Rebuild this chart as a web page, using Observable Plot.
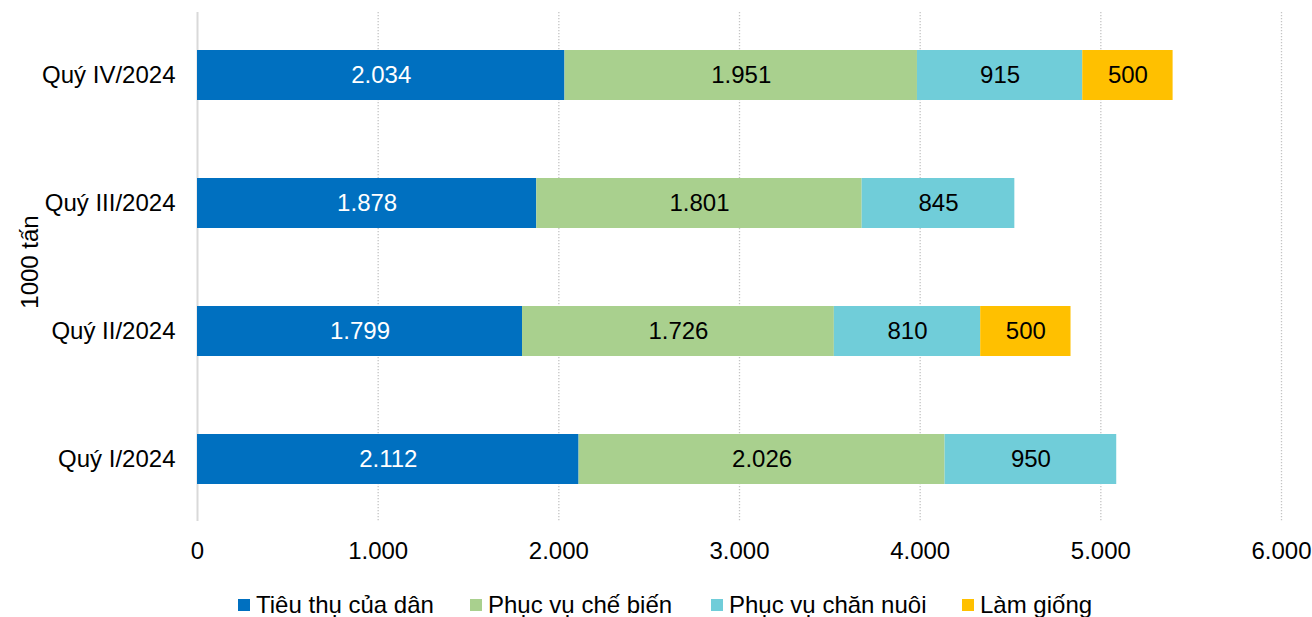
<!DOCTYPE html>
<html><head><meta charset="utf-8">
<script src="https://cdn.jsdelivr.net/npm/d3@7"></script>
<script src="https://cdn.jsdelivr.net/npm/@observablehq/plot@0.6"></script>
<style>
body{margin:0;background:#fff;font-family:"Liberation Sans",Arial,sans-serif;}
#wrap{position:relative;width:1312px;height:617px;}
#legend{position:absolute;left:0;top:590px;width:1312px;height:30px;}
.item{position:absolute;top:0;height:30px;line-height:30px;font-size:24px;color:#000;white-space:nowrap;display:flex;align-items:center;}
.sw{display:inline-block;width:12px;height:12px;margin-right:6px;}
</style></head><body>
<div id="wrap"><div id="chart"></div><div id="legend"></div></div>
<script>
const quarters = ["Quý I/2024", "Quý II/2024", "Quý III/2024", "Quý IV/2024"];
const seriesNames = ["Tiêu thụ của dân", "Phục vụ chế biến", "Phục vụ chăn nuôi", "Làm giống"];
const tieuThuCuaDan = [2112, 1799, 1878, 2034];
const phucVuCheBien = [2026, 1726, 1801, 1951];
const phucVuChanNuoi = [950, 810, 845, 915];
const lamGiong = [null, 500, null, 500];
const xTicks = [0, 1000, 2000, 3000, 4000, 5000, 6000];
const yLabel = "1000 tấn";

const colors = ["#0070C0", "#A9D08E", "#70CDD9", "#FFC000"];
const seriesValues = [tieuThuCuaDan, phucVuCheBien, phucVuChanNuoi, lamGiong];

const rows = [];
seriesValues.forEach((vals, si) => {
  vals.forEach((v, qi) => {
    if (v != null) rows.push({quarter: quarters[qi], series: seriesNames[si], value: v});
  });
});
const firstRows = rows.filter(d => d.series === seriesNames[0]);

const vn = d3.formatLocale({decimal: ",", thousands: ".", grouping: [3], currency: ["", ""]});
const fmt = vn.format(",");
const FS = 24;

const chart = Plot.plot({
  width: 1312,
  height: 575,
  marginTop: 12,
  marginBottom: 54,
  marginLeft: 197,
  marginRight: 31,
  style: {fontFamily: "'Liberation Sans', Arial, sans-serif", fontSize: FS + "px", color: "#000", background: "#fff"},
  x: {domain: [0, 6000], ticks: xTicks, tickFormat: fmt},
  y: {domain: quarters.slice().reverse(), paddingInner: 0.61, paddingOuter: 0.29},
  color: {domain: seriesNames, range: colors},
  marks: [
    Plot.gridX(xTicks.filter(t => t > 0), {stroke: "#c4c4c4", strokeOpacity: 1, strokeWidth: 1.3, strokeDasharray: "1.3,1.7"}),
    Plot.ruleX([0], {stroke: "#d9d9d9", strokeWidth: 2}),
    Plot.barX(rows, Plot.stackX({x: "value", y: "quarter", fill: "series", order: seriesNames})),
    Plot.textX(rows, Plot.stackX({x: "value", y: "quarter", z: "series", order: seriesNames,
      text: d => d.series === seriesNames[0] ? "" : fmt(d.value), fill: "#000", fontSize: FS})),
    Plot.textX(firstRows, Plot.stackX({x: "value", y: "quarter", text: d => fmt(d.value), fill: "#fff", fontSize: FS})),
    Plot.axisX({ticks: xTicks, tickFormat: fmt, tickSize: 0, tickPadding: 20, label: null, fontSize: FS}),
    Plot.axisY({tickSize: 0, tickPadding: 22, label: null, fontSize: FS}),
    Plot.text([yLabel], {frameAnchor: "left", textAnchor: "middle", dx: -167, dy: -5, rotate: -90, fontSize: FS, fill: "#000"})
  ]
});
document.getElementById("chart").appendChild(chart);

const legendLeft = [238, 470, 711, 962];
const legend = document.getElementById("legend");
seriesNames.forEach((name, i) => {
  const item = document.createElement("div");
  item.className = "item";
  item.style.left = legendLeft[i] + "px";
  const sw = document.createElement("span");
  sw.className = "sw";
  sw.style.background = colors[i];
  item.appendChild(sw);
  item.appendChild(document.createTextNode(name));
  legend.appendChild(item);
});
</script>
</body></html>
